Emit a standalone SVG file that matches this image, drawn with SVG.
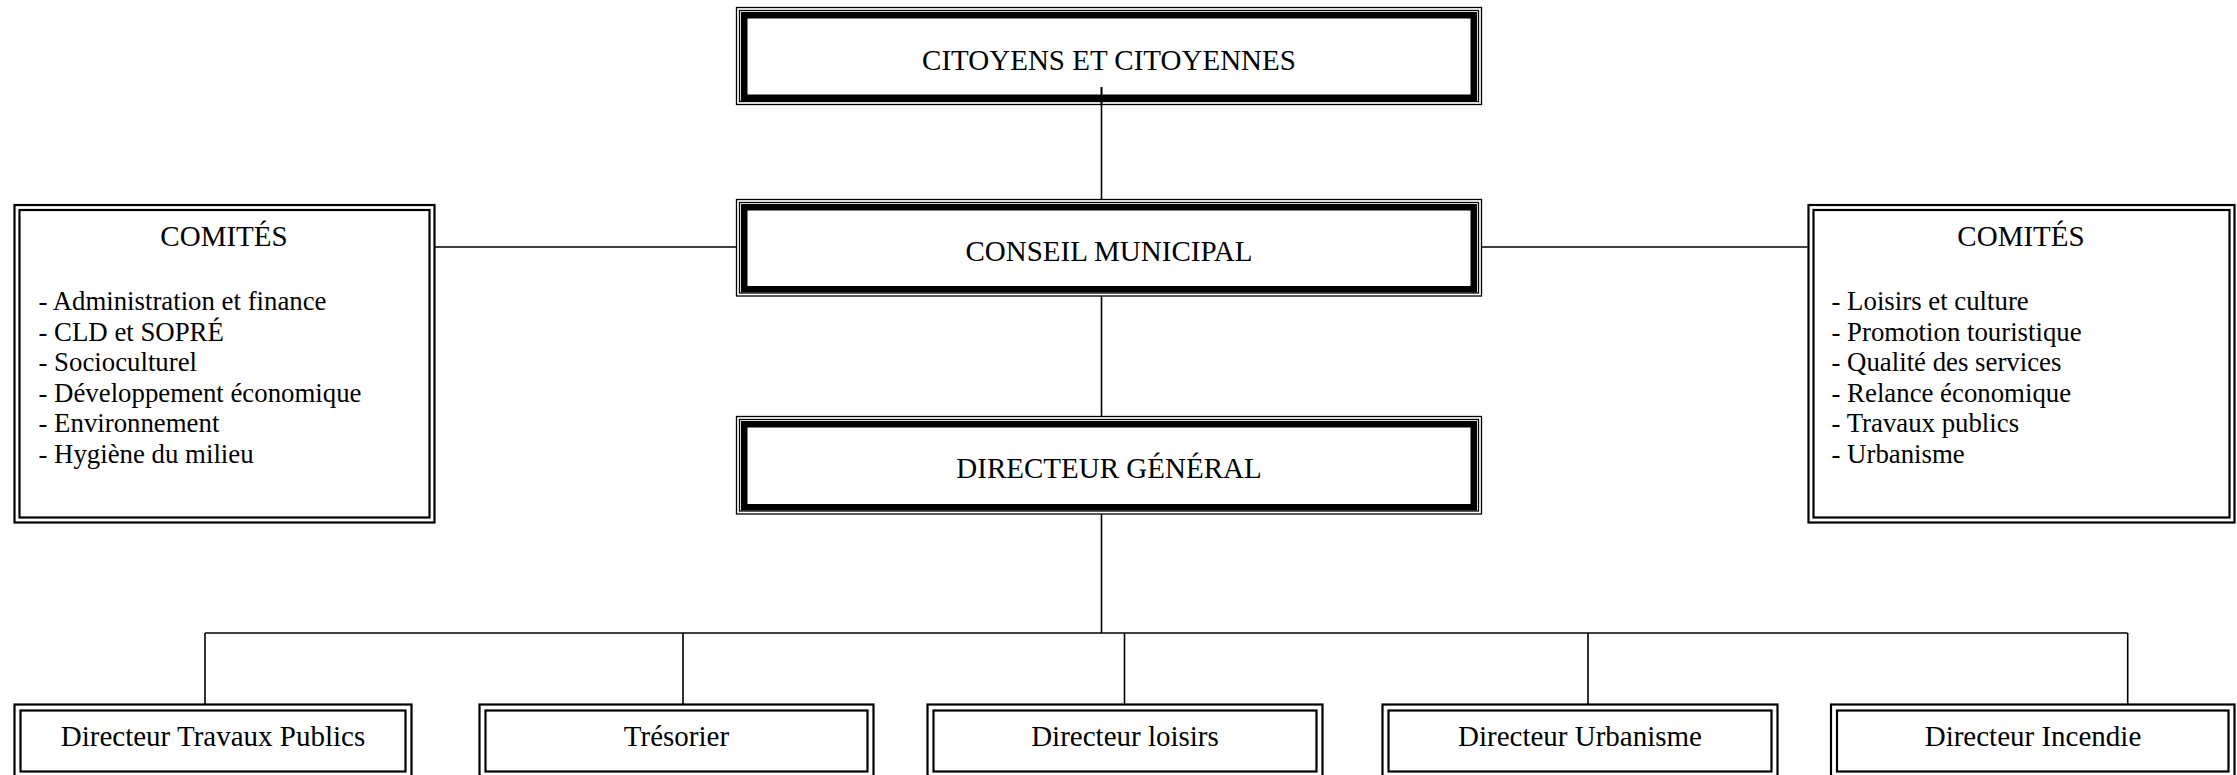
<svg xmlns="http://www.w3.org/2000/svg" width="2237" height="775" viewBox="0 0 2237 775">
<style>
  text { font-family: "Liberation Serif", "Times New Roman", serif; fill: #000; }
  .t { font-size: 29px; text-anchor: middle; }
  .l { font-size: 26.8px; }
  .thin { fill: none; stroke: #000; stroke-width: 1.3; }
  .thick { fill: none; stroke: #000; stroke-width: 6.5; }
  .dbl { fill: none; stroke: #000; stroke-width: 2.2; }
  .bg { fill: #fff; stroke: none; }
  .conn line { stroke: #000; stroke-width: 1.6; }
</style>
<rect x="0" y="0" width="2237" height="775" fill="#fff"/>

<g id="connectors" class="conn">
  <line x1="1101.5" y1="87" x2="1101.5" y2="200"/>
  <line x1="1101.5" y1="296" x2="1101.5" y2="416"/>
  <line x1="1101.5" y1="514" x2="1101.5" y2="633"/>
  <line x1="435" y1="247" x2="736" y2="247"/>
  <line x1="1482" y1="247" x2="1807.5" y2="247"/>
  <line x1="205" y1="633" x2="2127.7" y2="633"/>
  <line x1="205" y1="633" x2="205" y2="704"/>
  <line x1="683" y1="633" x2="683" y2="704"/>
  <line x1="1124.5" y1="633" x2="1124.5" y2="704"/>
  <line x1="1588" y1="633" x2="1588" y2="704"/>
  <line x1="2127.7" y1="633" x2="2127.7" y2="704"/>
</g>

<g id="citoyens">
  <rect class="thin" x="736.5" y="7.5" width="745" height="97"/>
  <rect class="thin" x="739.5" y="10.5" width="739" height="91"/>
  <rect class="thick" x="744.25" y="15.25" width="729.5" height="82.5"/>
  <text class="t" x="1109" y="70">CITOYENS ET CITOYENNES</text>
</g>
<line x1="1101.5" y1="87" x2="1101.5" y2="105" stroke="#000" stroke-width="1.6"/>

<g id="conseil">
  <rect class="thin" x="736.5" y="199.5" width="745" height="96.5"/>
  <rect class="thin" x="739.5" y="202.5" width="739" height="90.5"/>
  <rect class="thick" x="744.25" y="207.25" width="729.5" height="82"/>
  <text class="t" x="1109" y="261">CONSEIL MUNICIPAL</text>
</g>

<g id="dg">
  <rect class="thin" x="736.5" y="416.5" width="745" height="97.5"/>
  <rect class="thin" x="739.5" y="419.5" width="739" height="91.5"/>
  <rect class="thick" x="744.25" y="424.25" width="729.5" height="83"/>
  <text class="t" x="1109" y="478">DIRECTEUR GÉNÉRAL</text>
</g>

<g id="comites-gauche">
  <rect class="dbl" x="14.5" y="205" width="420" height="317.5"/>
  <rect class="dbl" x="19.5" y="210" width="410" height="307.5"/>
  <text class="t" x="224" y="246">COMITÉS</text>
  <text class="l" x="38.5" y="310">- Administration et finance</text>
  <text class="l" x="38.5" y="341">- CLD et SOPRÉ</text>
  <text class="l" x="38.5" y="371">- Socioculturel</text>
  <text class="l" x="38.5" y="402">- Développement économique</text>
  <text class="l" x="38.5" y="432">- Environnement</text>
  <text class="l" x="38.5" y="463">- Hygiène du milieu</text>
</g>

<g id="comites-droite">
  <rect class="dbl" x="1808.5" y="205" width="426" height="317.5"/>
  <rect class="dbl" x="1813.5" y="210" width="416" height="307.5"/>
  <text class="t" x="2021" y="246">COMITÉS</text>
  <text class="l" x="1831.5" y="310">- Loisirs et culture</text>
  <text class="l" x="1831.5" y="341">- Promotion touristique</text>
  <text class="l" x="1831.5" y="371">- Qualité des services</text>
  <text class="l" x="1831.5" y="402">- Relance économique</text>
  <text class="l" x="1831.5" y="432">- Travaux publics</text>
  <text class="l" x="1831.5" y="463">- Urbanisme</text>
</g>

<g id="dir-travaux">
  <rect class="dbl" x="14.5" y="704.5" width="397" height="73"/>
  <rect class="dbl" x="20.5" y="710.5" width="385" height="61"/>
  <text class="t" x="213" y="746">Directeur Travaux Publics</text>
</g>

<g id="tresorier">
  <rect class="dbl" x="479.5" y="704.5" width="394" height="73"/>
  <rect class="dbl" x="485.5" y="710.5" width="382" height="61"/>
  <text class="t" x="676.5" y="746">Trésorier</text>
</g>

<g id="dir-loisirs">
  <rect class="dbl" x="927.5" y="704.5" width="395" height="73"/>
  <rect class="dbl" x="933.5" y="710.5" width="383" height="61"/>
  <text class="t" x="1125" y="746">Directeur loisirs</text>
</g>

<g id="dir-urbanisme">
  <rect class="dbl" x="1382.5" y="704.5" width="395" height="73"/>
  <rect class="dbl" x="1388.5" y="710.5" width="383" height="61"/>
  <text class="t" x="1580" y="746">Directeur Urbanisme</text>
</g>

<g id="dir-incendie">
  <rect class="dbl" x="1831" y="704.5" width="403.5" height="73"/>
  <rect class="dbl" x="1837" y="710.5" width="391.5" height="61"/>
  <text class="t" x="2033" y="746">Directeur Incendie</text>
</g>
</svg>
